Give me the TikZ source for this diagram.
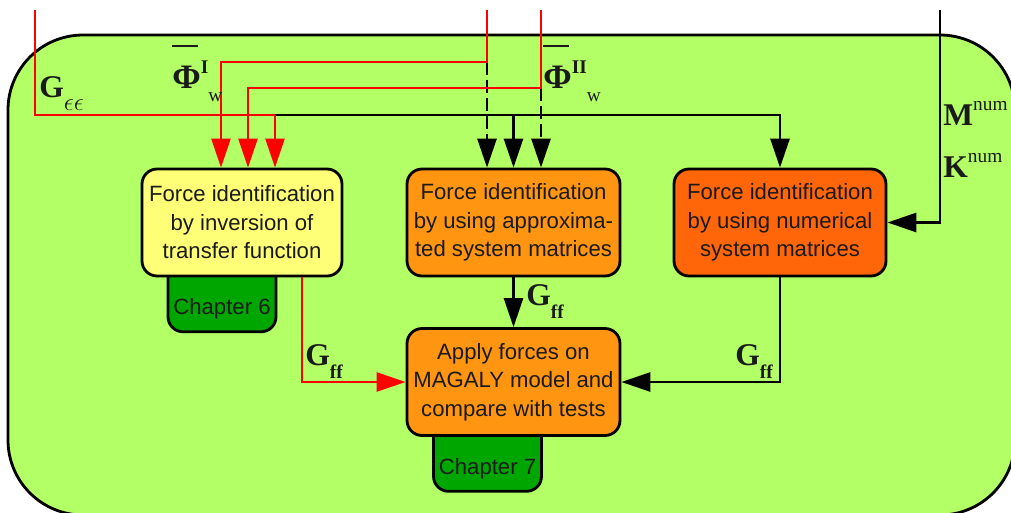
\documentclass[tikz,border=0pt]{standalone}
\usepackage{fontspec}
\usepackage{amsmath}
\usepackage{tikz}
\usetikzlibrary{arrows.meta,positioning,calc,backgrounds}
\newfontfamily\boxfont{Liberation Sans}
\newfontfamily\symfont{Liberation Serif}
\definecolor{BgGreen}{HTML}{B3FF66}
\definecolor{BoxYellow}{HTML}{FFFF77}
\definecolor{BoxOrange}{HTML}{FF9511}
\definecolor{BoxDeep}{HTML}{FF660A}
\definecolor{TabGreen}{HTML}{00A600}
\definecolor{SignalRed}{HTML}{FF0000}
\definecolor{InkGray}{HTML}{1A1A1A}
% sub- and superscripts of the labels
\newcommand\lsub[1]{\raisebox{-7.4pt}{\fontsize{11}{11}\selectfont#1}}
\newcommand\lsup[1]{\raisebox{8.5pt}{\fontsize{11}{11}\selectfont#1}}
\newcommand\phibar{\rlap{\rule[1.3em]{0.8em}{0.045em}}\fontsize{19.5}{20}\selectfont Φ}
\tikzset{
  % Base box
  FB/.style={rectangle,rounded corners=0.3cm,
             minimum width=4.26cm,minimum height=2.14cm,
             text centered,align=center,draw,line width=1.6pt,inner sep=2pt,
             text=InkGray,font=\boxfont\fontsize{12.6}{16.2}\selectfont},
  % Chapter tab
  CT/.style={FB,fill=TabGreen,minimum width=2.16cm,minimum height=1.46cm,
             text height=25pt,text depth=2.7pt},
  % Arrows and lines
  arr/.style={-{Triangle[length=0.58cm,width=0.38cm]},line width=1.6pt},
  rarr/.style={arr,line width=1.5pt,color=SignalRed},
  rln/.style={line width=1.5pt,color=SignalRed},
  dsh/.style={dash pattern=on 0.26cm off 0.1cm},
  % Colour variants
  nY/.style={FB,fill=BoxYellow,minimum width=4cm},
  nO/.style={FB,fill=BoxOrange},
  nD/.style={FB,fill=BoxDeep,minimum width=4.24cm},
  % Label style
  LB/.style={inner sep=0pt,anchor=base west,text=InkGray,
             font=\symfont\bfseries\fontsize{18}{20}\selectfont}
}
\begin{document}
\begin{tikzpicture}[x=0.02cm,y=-0.02cm]
  \useasboundingbox (0,0) rectangle (1011,512);
  \clip (0,0) rectangle (1011,512);
  \begin{scope}[on background layer]
    \draw[line width=1.6pt,fill=BgGreen,rounded corners=1.5cm] (8,35) rectangle (1015,515);
  \end{scope}

  \node[nY] (inv) at (242,222.5) {Force identification\\by inversion of\\transfer function};
  \node[nO] (appr) at (513.5,222.5) {Force identification\\by using approxima-\\ted system matrices};
  \node[nD] (numr) at (780,222.5) {Force identification\\by using numerical\\system matrices};
  \node[nO] (test) at (513.5,382) {Apply forces on\\MAGALY model and\\compare with tests};
  \begin{scope}[on background layer]
    \node[CT,below=-0.4cm of inv,xshift=-0.4cm] (ch6) {Chapter 6};
    \node[CT,below=-0.4cm of test,xshift=-0.52cm,text height=24.8pt] (ch7) {Chapter 7};
  \end{scope}

  \coordinate (gin) at (35,10);
  \coordinate (pin1) at (487,10);
  \coordinate (pin2) at (541,10);
  \coordinate (kin) at (940,10);
  \coordinate (gsplit) at (275,115);
  \coordinate (p1) at (487,62);
  \coordinate (p2) at (541,88);

  \draw[arr,dsh] (p1) -- (p1 |- appr.north);
  \draw[arr,dsh] (p2) -- (p2 |- appr.north);
  \draw[arr] (gsplit) -| (numr.north);
  \draw[arr] (appr.north |- gsplit) -- (appr.north);
  \draw[rln] (gin) |- (gsplit);
  \draw[rarr] (gsplit) -- (gsplit |- inv.north);
  \draw[rarr] (pin1) -- (p1) -| ([xshift=-0.42cm]inv.north);
  \draw[rarr] (pin2) -- (p2) -| ([xshift=0.12cm]inv.north);
  \draw[arr] (kin) |- (numr.east);
  \draw[arr] (appr) -- (test);
  \draw[rarr] ([xshift=1.2cm]inv.south) |- (test.west);
  \draw[arr] (numr.south) |- (test.east);

  \node[LB] (lgee) at (39,97) {G\lsub{\mdseries\fontsize{15}{15}\selectfont$\epsilon\epsilon$}};
  \node[LB] (lphi1) at (172,88) {\phibar\lsup{I}\lsub{\mdseries w}};
  \node[LB] (lphi2) at (543,88) {\phibar\lsup{II}\lsub{\mdseries w}};
  \node[LB] (lm) at (943,125) {M\lsup{\mdseries num}};
  \node[LB] (lk) at (943,177) {K\lsup{\mdseries num}};
  \node[LB] (lgff1) at (526,305) {G\lsub{ff}};
  \node[LB] (lgff2) at (305,365) {G\lsub{ff}};
  \node[LB] (lgff3) at (735,365) {G\lsub{ff}};
\end{tikzpicture}
\end{document}
